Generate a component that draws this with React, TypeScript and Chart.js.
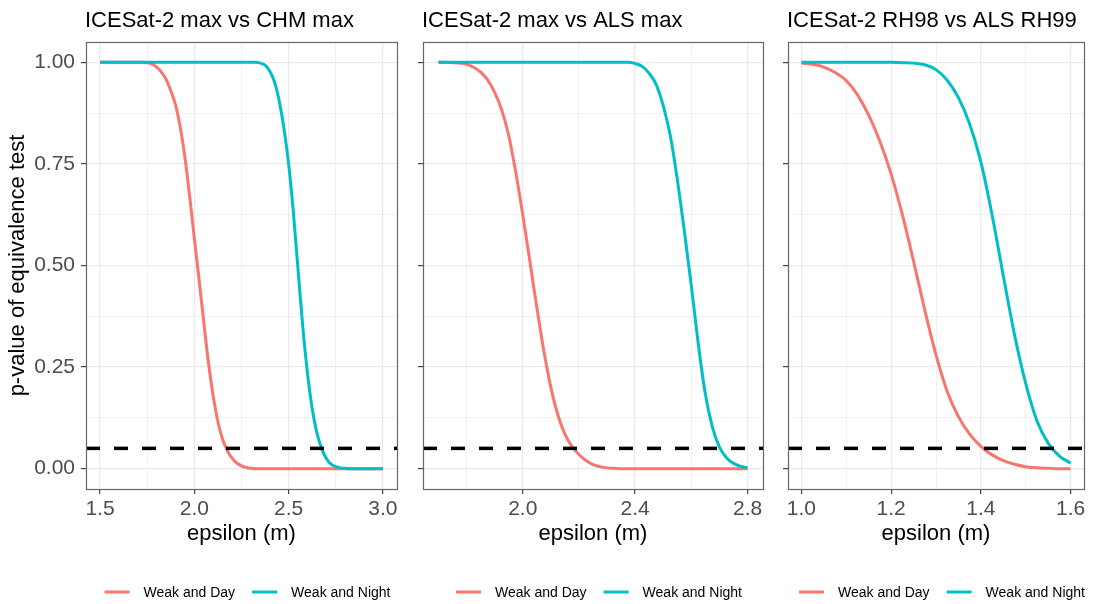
import React, { useEffect, useRef } from 'react';
import { Chart, registerables } from 'chart.js';

Chart.register(...registerables);

const FONT = '"Liberation Sans", Arial, Helvetica, sans-serif';
const SERIES = ['Weak and Day', 'Weak and Night'];
const SERIES_COLORS = ['#F8766D', '#00BFC4'];
const THRESHOLD = 0.05;
const Y_TITLE = 'p-value of equivalence test';
const X_TITLE = 'epsilon (m)';
const Y_MAJOR = [0, 0.25, 0.5, 0.75, 1];
const Y_MINOR = [0.125, 0.375, 0.625, 0.875];

// Panel 1
const P1_TITLE = 'ICESat-2 max vs CHM max';
const P1_EPS = [
  1.5, 1.6, 1.7, 1.725, 1.75, 1.775, 1.8, 1.825, 1.85, 1.875, 1.9, 1.925, 1.95, 1.975,
  2.0, 2.025, 2.05, 2.075, 2.1, 2.125, 2.15, 2.175, 2.2, 2.225, 2.25, 2.275, 2.3, 2.325,
  2.35, 2.375, 2.4, 2.425, 2.45, 2.475, 2.5, 2.525, 2.55, 2.575, 2.6, 2.625, 2.65, 2.675,
  2.7, 2.725, 2.75, 2.775, 2.8, 2.825, 2.85, 2.9, 3.0,
];
const P1_DAY = [
  1, 1, 1, 1, 0.999, 0.996, 0.988, 0.976, 0.958, 0.93, 0.895, 0.84, 0.765, 0.67,
  0.566, 0.465, 0.36, 0.26, 0.178, 0.115, 0.072, 0.044, 0.026, 0.014, 0.007, 0.003, 0.001, 0,
  0, 0, 0, 0, 0, 0, 0, 0, 0, 0, 0, 0, 0, 0,
  0, 0, 0, 0, 0, 0, 0, 0, 0,
];
const P1_NIGHT = [
  1, 1, 1, 1, 1, 1, 1, 1, 1, 1, 1, 1, 1, 1,
  1, 1, 1, 1, 1, 1, 1, 1, 1, 1, 1, 1, 1, 1,
  0.998, 0.993, 0.978, 0.952, 0.905, 0.838, 0.75, 0.632, 0.49, 0.35, 0.235, 0.148, 0.088, 0.05,
  0.025, 0.011, 0.005, 0.002, 0.001, 0, 0, 0, 0,
];
const P1_X_MAJOR = [1.5, 2.0, 2.5, 3.0];
const P1_X_MINOR = [1.75, 2.25, 2.75];

// Panel 2
const P2_TITLE = 'ICESat-2 max vs ALS max';
const P2_EPS = [
  1.7, 1.725, 1.75, 1.775, 1.8, 1.825, 1.85, 1.875, 1.9, 1.925, 1.95, 1.975,
  2.0, 2.025, 2.05, 2.075, 2.1, 2.125, 2.15, 2.175, 2.2, 2.225, 2.25, 2.275,
  2.3, 2.325, 2.35, 2.375, 2.4, 2.425, 2.45, 2.475, 2.5, 2.525, 2.55, 2.575,
  2.6, 2.625, 2.65, 2.675, 2.7, 2.725, 2.75, 2.775, 2.8,
];
const P2_DAY = [
  1, 1, 0.999, 0.998, 0.995, 0.988, 0.976, 0.957, 0.926, 0.883, 0.82, 0.73,
  0.625, 0.512, 0.397, 0.29, 0.2, 0.132, 0.085, 0.055, 0.035, 0.02, 0.01, 0.005,
  0.002, 0.001, 0, 0, 0, 0, 0, 0, 0, 0, 0, 0,
  0, 0, 0, 0, 0, 0, 0, 0, 0,
];
const P2_NIGHT = [
  1, 1, 1, 1, 1, 1, 1, 1, 1, 1, 1, 1,
  1, 1, 1, 1, 1, 1, 1, 1, 1, 1, 1, 1,
  1, 1, 1, 1, 0.997, 0.99, 0.973, 0.945, 0.893, 0.82, 0.712, 0.585,
  0.45, 0.305, 0.183, 0.102, 0.053, 0.027, 0.013, 0.006, 0.002,
];
const P2_X_MAJOR = [2.0, 2.4, 2.8];
const P2_X_MINOR = [1.8, 2.2, 2.6];

// Panel 3
const P3_TITLE = 'ICESat-2 RH98 vs ALS RH99';
const P3_EPS = [
  1.0, 1.025, 1.05, 1.075, 1.1, 1.125, 1.15, 1.175, 1.2, 1.225, 1.25, 1.275, 1.3,
  1.325, 1.35, 1.375, 1.4, 1.425, 1.45, 1.475, 1.5, 1.525, 1.55, 1.575, 1.6,
];
const P3_DAY = [
  0.998, 0.995, 0.988, 0.975, 0.955, 0.92, 0.87, 0.805, 0.725, 0.625, 0.51, 0.39, 0.28,
  0.19, 0.128, 0.085, 0.055, 0.034, 0.02, 0.011, 0.005, 0.002, 0.001, 0, 0,
];
const P3_NIGHT = [
  1, 1, 1, 1, 1, 1, 1, 1, 1, 0.999, 0.998, 0.994, 0.982,
  0.956, 0.913, 0.848, 0.755, 0.625, 0.475, 0.33, 0.21, 0.118, 0.063, 0.031, 0.014,
];
const P3_X_MAJOR = [1.0, 1.2, 1.4, 1.6];
const P3_X_MINOR = [1.1, 1.3, 1.5];

type PanelDef = {
  title: string;
  eps: number[];
  day: number[];
  night: number[];
  xMajor: number[];
  xMinor: number[];
  left: number;
  width: number;
  yAxisWidth: number;
  padRight: number;
  showY: boolean;
};

const PANELS: PanelDef[] = [
  { title: P1_TITLE, eps: P1_EPS, day: P1_DAY, night: P1_NIGHT, xMajor: P1_X_MAJOR, xMinor: P1_X_MINOR, left: 0, width: 400, yAxisWidth: 86, padRight: 3, showY: true },
  { title: P2_TITLE, eps: P2_EPS, day: P2_DAY, night: P2_NIGHT, xMajor: P2_X_MAJOR, xMinor: P2_X_MINOR, left: 400, width: 368, yAxisWidth: 23, padRight: 5, showY: false },
  { title: P3_TITLE, eps: P3_EPS, day: P3_DAY, night: P3_NIGHT, xMajor: P3_X_MAJOR, xMinor: P3_X_MINOR, left: 768, width: 328, yAxisWidth: 20, padRight: 12, showY: false },
];

const H = 604;
const TOP = 42;
const X_AXIS_H = 58;
const BOTTOM_PAD = H - 489 - X_AXIS_H;

const near = (a: number, b: number) => Math.abs(a - b) < 1e-9;
const isIn = (arr: number[], v: number) => arr.some((a) => near(a, v));

function makeDecor(title: string) {
  return {
    id: 'panelDecor',
    afterDatasetsDraw(chart: any) {
      const { ctx, chartArea: a, scales } = chart;
      const y = scales.y.getPixelForValue(THRESHOLD);
      ctx.save();
      ctx.beginPath();
      ctx.rect(a.left, a.top, a.right - a.left, a.bottom - a.top);
      ctx.clip();
      ctx.setLineDash([14, 14]);
      ctx.lineWidth = 3.5;
      ctx.strokeStyle = '#000000';
      ctx.beginPath();
      ctx.moveTo(a.left, y);
      ctx.lineTo(a.right, y);
      ctx.stroke();
      ctx.restore();
    },
    afterDraw(chart: any) {
      const { ctx, chartArea: a } = chart;
      ctx.save();
      // panel border
      ctx.strokeStyle = '#666666';
      ctx.lineWidth = 1.2;
      ctx.strokeRect(a.left + 0.5, a.top + 0.5, a.right - a.left, a.bottom - a.top);
      // title
      ctx.fillStyle = '#000000';
      ctx.font = `22px ${FONT}`;
      ctx.textAlign = 'left';
      ctx.textBaseline = 'alphabetic';
      ctx.fillText(title, a.left - 1, 27);
      // legend
      ctx.font = `14px ${FONT}`;
      const LINE = 25;
      const GAP_TEXT = 14;
      const GAP_ITEM = 17;
      const w0 = ctx.measureText(SERIES[0]).width;
      const w1 = ctx.measureText(SERIES[1]).width;
      const total = LINE + GAP_TEXT + w0 + GAP_ITEM + LINE + GAP_TEXT + w1;
      let x = (a.left + a.right) / 2 + 6 - total / 2;
      const ly = 592;
      const widths = [w0, w1];
      for (let i = 0; i < 2; i++) {
        ctx.strokeStyle = SERIES_COLORS[i];
        ctx.lineWidth = 3;
        ctx.beginPath();
        ctx.moveTo(x, ly);
        ctx.lineTo(x + LINE, ly);
        ctx.stroke();
        x += LINE + GAP_TEXT;
        ctx.fillStyle = '#000000';
        ctx.fillText(SERIES[i], x, 597);
        x += widths[i] + GAP_ITEM;
      }
      ctx.restore();
    },
  };
}

function Panel({ p }: { p: PanelDef }) {
  const ref = useRef<HTMLCanvasElement>(null);
  useEffect(() => {
    if (!ref.current) return;
    const n = p.eps.length;
    const range = p.eps[n - 1] - p.eps[0];
    const xMin = p.eps[0] - 0.05 * range;
    const xMax = p.eps[n - 1] + 0.05 * range;
    const xTicks = [...p.xMajor, ...p.xMinor].sort((a, b) => a - b);
    const yTicks = [...Y_MAJOR, ...Y_MINOR].sort((a, b) => a - b);
    const zeroPad = (s: any) => {
      s.paddingLeft = 0;
      s.paddingRight = 0;
      s.paddingTop = 0;
      s.paddingBottom = 0;
    };
    const chart = new Chart(ref.current, {
      type: 'line',
      data: {
        datasets: [
          {
            label: SERIES[0],
            data: p.eps.map((x, i) => ({ x, y: p.day[i] })),
            borderColor: SERIES_COLORS[0],
            backgroundColor: SERIES_COLORS[0],
            borderWidth: 3,
            pointRadius: 0,
            fill: false,
            cubicInterpolationMode: 'monotone',
            order: 1,
          },
          {
            label: SERIES[1],
            data: p.eps.map((x, i) => ({ x, y: p.night[i] })),
            borderColor: SERIES_COLORS[1],
            backgroundColor: SERIES_COLORS[1],
            borderWidth: 3,
            pointRadius: 0,
            fill: false,
            cubicInterpolationMode: 'monotone',
            order: 0,
          },
        ],
      },
      options: {
        responsive: false,
        maintainAspectRatio: false,
        animation: false,
        events: [],
        layout: { padding: { top: TOP, left: 0, right: p.padRight, bottom: BOTTOM_PAD } },
        plugins: {
          legend: { display: false },
          title: { display: false },
          tooltip: { enabled: false },
        },
        scales: {
          x: {
            type: 'linear',
            position: 'bottom',
            min: xMin,
            max: xMax,
            afterBuildTicks: (s: any) => {
              s.ticks = xTicks.map((v) => ({ value: v }));
            },
            afterFit: (s: any) => {
              s.height = X_AXIS_H;
              zeroPad(s);
            },
            border: { display: false },
            grid: {
              color: '#EBEBEB',
              lineWidth: (c: any) => (c.tick && isIn(p.xMinor, c.tick.value) ? 0.7 : 1.3),
              drawTicks: true,
              tickLength: 5,
              tickWidth: 1.1,
              tickColor: (c: any) => (c.tick && isIn(p.xMinor, c.tick.value) ? 'rgba(0,0,0,0)' : '#333333'),
            },
            ticks: {
              autoSkip: false,
              maxRotation: 0,
              minRotation: 0,
              padding: 3,
              color: '#4D4D4D',
              font: { family: FONT, size: 21 },
              callback: (v: any) => (isIn(p.xMajor, Number(v)) ? Number(v).toFixed(1) : ''),
            },
            title: {
              display: true,
              text: X_TITLE,
              color: '#000000',
              font: { family: FONT, size: 22 },
              padding: { top: 0, bottom: 0 },
            },
          },
          y: {
            type: 'linear',
            position: 'left',
            min: -0.05,
            max: 1.05,
            afterBuildTicks: (s: any) => {
              s.ticks = yTicks.map((v) => ({ value: v }));
            },
            afterFit: (s: any) => {
              s.width = p.yAxisWidth;
              zeroPad(s);
            },
            border: { display: false },
            grid: {
              color: '#EBEBEB',
              lineWidth: (c: any) => (c.tick && isIn(Y_MINOR, c.tick.value) ? 0.7 : 1.3),
              drawTicks: true,
              tickLength: 5,
              tickWidth: 1.1,
              tickColor: (c: any) => (c.tick && isIn(Y_MINOR, c.tick.value) ? 'rgba(0,0,0,0)' : '#333333'),
            },
            ticks: {
              display: p.showY,
              autoSkip: false,
              padding: 6,
              color: '#4D4D4D',
              font: { family: FONT, size: 21 },
              callback: (v: any) => (isIn(Y_MAJOR, Number(v)) ? Number(v).toFixed(2) : ''),
            },
            title: {
              display: p.showY,
              text: Y_TITLE,
              color: '#000000',
              font: { family: FONT, size: 22 },
              padding: { top: 5, bottom: 0 },
            },
          },
        },
      },
      plugins: [makeDecor(p.title)],
    } as any);
    return () => chart.destroy();
  }, [p]);
  return (
    <canvas
      ref={ref}
      width={p.width}
      height={H}
      style={{ position: 'absolute', left: p.left, top: 0, width: p.width, height: H }}
    />
  );
}

export default function App() {
  return (
    <div style={{ position: 'absolute', left: 0, top: 0, width: 1096, height: H, background: '#ffffff', overflow: 'hidden' }}>
      {PANELS.map((p, i) => (
        <Panel key={i} p={p} />
      ))}
    </div>
  );
}
